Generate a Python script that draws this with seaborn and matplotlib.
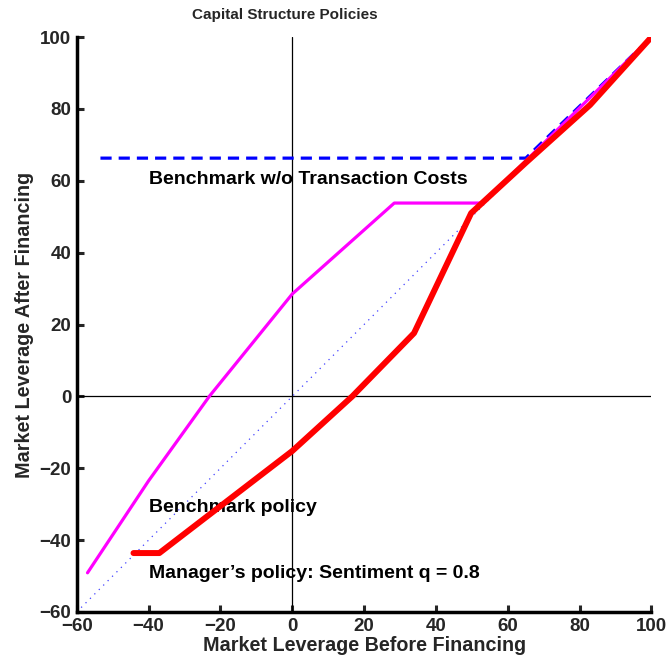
import matplotlib
matplotlib.use("Agg")
import matplotlib.pyplot as plt
import seaborn as sns
import pandas as pd

sns.set_theme(style="white")
plt.rcParams["font.family"] = ["Liberation Sans", "DejaVu Sans"]
plt.rcParams["font.weight"] = "bold"

# Benchmark policy without transaction costs
nocost_x = [-53.4, 65.0, 100.0]
nocost_y = [66.3, 66.3, 100.0]

# Benchmark policy (with transaction costs)
bench_x = [-57.0, -40.0, -23.1, 0.0, 28.4, 53.1, 100.0]
bench_y = [-49.1, -23.5, 0.0, 28.5, 53.8, 53.8, 100.0]

# Manager's policy with sentiment q = 0.8
mgr_x = [-44.2, -37.0, 0.0, 16.7, 33.9, 49.8, 65.0, 82.9, 100.0]
mgr_y = [-43.6, -43.6, -15.2, 0.0, 17.6, 51.0, 65.0, 81.1, 100.0]

# 45-degree reference line
diag_x = [-60.0, 100.0]
diag_y = [-60.0, 100.0]

x_ticks = [-60, -40, -20, 0, 20, 40, 60, 80, 100]
y_ticks = [-60, -40, -20, 0, 20, 40, 60, 80, 100]

fig = plt.figure(figsize=(6.69, 6.66), dpi=100)
ax = fig.add_axes([0.1147, 0.0811, 0.8591, 0.8633])

ax.axvline(0, color="black", lw=0.9, zorder=1)
ax.axhline(0, color="black", lw=0.9, zorder=1)

sns.lineplot(data=pd.DataFrame({"x": diag_x, "y": diag_y}), x="x", y="y", ax=ax,
             sort=False, color="#4040ff", lw=0.9, linestyle=(0, (1, 4)), zorder=2)
sns.lineplot(data=pd.DataFrame({"x": nocost_x, "y": nocost_y}), x="x", y="y", ax=ax,
             sort=False, color="#0000ff", lw=2.3, linestyle=(0, (3.5, 2.2)), zorder=3)
sns.lineplot(data=pd.DataFrame({"x": bench_x, "y": bench_y}), x="x", y="y", ax=ax,
             sort=False, color="#ff00ff", lw=2.3, zorder=4)
sns.lineplot(data=pd.DataFrame({"x": mgr_x, "y": mgr_y}), x="x", y="y", ax=ax,
             sort=False, color="#ff0000", lw=4.3, zorder=5, solid_capstyle="round")

txt = dict(fontsize=14, fontweight="bold", color="black", va="center", ha="left")
ax.text(-39.8, 60.3, "Benchmark w/o Transaction Costs", **txt)
ax.text(-39.8, -31.0, "Benchmark policy", **txt)
ax.text(-39.8, -49.2, "Manager\u2019s policy: Sentiment q = 0.8", **txt)

ax.set_xlim(-60, 100)
ax.set_ylim(-60, 100)
ax.set_xticks(x_ticks)
ax.set_yticks(y_ticks)
ax.set_xticklabels([str(v).replace("-", "\u2212") for v in x_ticks])
ax.set_yticklabels([str(v).replace("-", "\u2212") for v in y_ticks])
ax.tick_params(direction="in", length=5, width=2.2, labelsize=13.5, pad=4,
               bottom=True, left=True, top=False, right=False)
for lab in ax.get_xticklabels() + ax.get_yticklabels():
    lab.set_fontweight("bold")

for side in ["top", "right"]:
    ax.spines[side].set_visible(False)
for side in ["left", "bottom"]:
    ax.spines[side].set_linewidth(2.5)
    ax.spines[side].set_color("black")

ax.set_xlabel("Market Leverage Before Financing", fontsize=14.2, fontweight="bold", labelpad=1)
ax.set_ylabel("Market Leverage After Financing", fontsize=14.2, fontweight="bold", labelpad=4)
fig.text(285 / 669, 1 - 15 / 666, "Capital Structure Policies", fontsize=11,
         fontweight="bold", ha="center", va="center")

fig.savefig("out.png", dpi=100)
